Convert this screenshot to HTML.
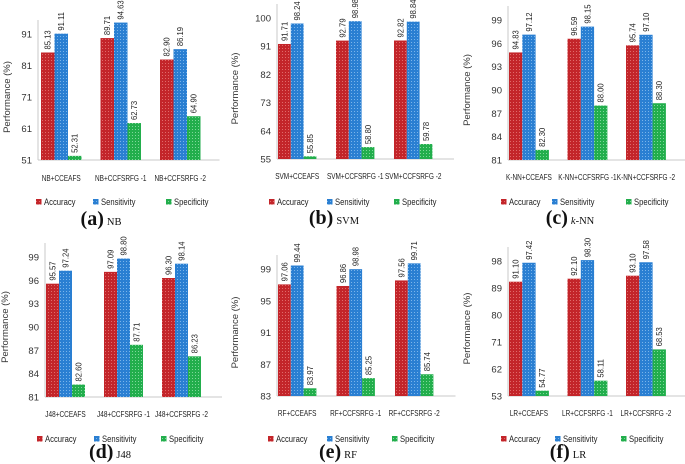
<!DOCTYPE html>
<html><head><meta charset="utf-8">
<style>
html,body{margin:0;padding:0;background:#fff;}
svg{display:block;font-family:"Liberation Sans",sans-serif;}
</style></head>
<body>
<svg id="chart" width="685" height="464" viewBox="0 0 685 464" xmlns="http://www.w3.org/2000/svg">
<defs>
<pattern id="pr" width="3" height="3" patternUnits="userSpaceOnUse"><rect width="3" height="3" fill="#c3252a"/><rect width="1" height="1" fill="#e06a6a"/></pattern>
<pattern id="pb" width="3" height="3" patternUnits="userSpaceOnUse"><rect width="3" height="3" fill="#2a7fd2"/><rect width="1" height="1" fill="#7ab4ea"/></pattern>
<pattern id="pg" width="3" height="3" patternUnits="userSpaceOnUse"><rect width="3" height="3" fill="#22ae4c"/><rect width="1" height="1" fill="#7fd79a"/></pattern>
</defs>
</svg>
<script>
const panelIds = ["nb","svm","knn","j48","rf","lr"];
const panelLetters = ["a","b","c","d","e","f"];
const panelTitles = ["NB","SVM","k-NN","J48","RF","LR"];
const categories = [
 ["NB+CCEAFS","NB+CCFSRFG -1","NB+CCFSRFG -2"],
 ["SVM+CCEAFS","SVM+CCFSRFG -1","SVM+CCFSRFG -2"],
 ["K-NN+CCEAFS","K-NN+CCFSRFG -1","K-NN+CCFSRFG -2"],
 ["J48+CCEAFS","J48+CCFSRFG -1","J48+CCFSRFG -2"],
 ["RF+CCEAFS","RF+CCFSRFG -1","RF+CCFSRFG -2"],
 ["LR+CCEAFS","LR+CCFSRFG -1","LR+CCFSRFG -2"]];
const accuracy = [[85.13,89.71,82.90],[91.71,92.79,92.82],[94.83,96.59,95.74],[95.57,97.09,96.30],[97.06,96.86,97.56],[91.10,92.10,93.10]];
const sensitivity = [[91.11,94.63,86.19],[98.24,98.98,98.84],[97.12,98.15,97.10],[97.24,98.80,98.14],[99.44,98.98,99.71],[97.42,98.30,97.58]];
const specificity = [[52.31,62.73,64.90],[55.85,58.80,59.78],[82.30,88.00,88.30],[82.60,87.71,86.23],[83.97,85.25,85.74],[54.77,58.11,68.53]];
const yMin = [51,55,81,81,83,53];
const yMax = [91,100,99,99,99,98];
const yStep = [10,9,3,3,4,9];
const seriesNames = ["Accuracy","Sensitivity","Specificity"];

// layout (not data)
const L = [
 {ax:38,base:160,top:34,bx:41,sp:59.5,bw:13.5,cat:181,leg:205,lx:[36,93,166],cap:101,capY:225,yt:10},
 {ax:277,base:159,top:18,bx:278,sp:58,bw:12.8,cat:179,leg:205,lx:[269,327,394],cap:334,capY:224,yt:238},
 {ax:508,base:160,top:20,bx:509,sp:58.5,bw:13.3,cat:180,leg:205,lx:[501,552,626],cap:570,capY:224,yt:470},
 {ax:45,base:397,top:257,bx:46,sp:58,bw:13,cat:417,leg:442,lx:[37,94,161],cap:110,capY:458,yt:8},
 {ax:277,base:396,top:269,bx:278,sp:58.5,bw:12.8,cat:416,leg:442,lx:[268,327,392],cap:338,capY:458,yt:238},
 {ax:508,base:396,top:261,bx:509,sp:58.5,bw:13.3,cat:416,leg:442,lx:[501,555,621],cap:568,capY:458,yt:470}];
const fills = ["url(#pr)","url(#pb)","url(#pg)"];
const NS = "http://www.w3.org/2000/svg";
const svg = document.getElementById("chart");
function mk(tag, attrs, parent, txt){
  const e = document.createElementNS(NS, tag);
  for (const k in attrs) e.setAttribute(k, attrs[k]);
  if (txt !== undefined) e.textContent = txt;
  (parent||svg).appendChild(e); return e;
}
function squeeze(t, factor){
  const w = t.getComputedTextLength();
  if (w > 0) { t.setAttribute("textLength", (w*factor).toFixed(1)); t.setAttribute("lengthAdjust","spacingAndGlyphs"); }
}
panelIds.forEach((pid, p) => {
  const g = mk("g", {});
  
  
  const c = L[p];
  const yScale = v => c.base - (v - yMin[p]) / (yMax[p] - yMin[p]) * (c.base - c.top);
  const right = c.ax + 3*c.sp + 3;
  const ya = mk("line", {x1:c.ax,y1:c.top-14,x2:c.ax,y2:c.base,stroke:"#c8c8c8","stroke-width":1}, g);
  
  
  const xa = mk("line", {x1:c.ax,y1:c.base,x2:right,y2:c.base,stroke:"#c8c8c8","stroke-width":1}, g);
  
  
  for (let v = yMin[p]; v <= yMax[p] + 0.001; v += yStep[p]) {
    const t = mk("text", {x:c.ax-6,y:yScale(v)+3.5,"text-anchor":"end","font-size":"9.5",fill:"#333"}, g, String(v));
    
    
  }
  const ymid = (c.top + c.base)/2;
  const yt = mk("text", {x:c.yt,y:ymid,"text-anchor":"middle","font-size":"9.5",fill:"#333",transform:`rotate(-90 ${c.yt} ${ymid})`}, g, "Performance (%)");
  
  
  const series = [accuracy[p], sensitivity[p], specificity[p]];
  for (let i = 0; i < 3; i++) {
    for (let s = 0; s < 3; s++) {
      const v = series[s][i];
      const x = c.bx + i*c.sp + s*c.bw;
      const y = yScale(v);
      const r = mk("rect", {x:x,y:y,width:c.bw,height:c.base-y,fill:fills[s]}, g);
      
      
      const lx = x + c.bw/2 + 3, ly = y - 3;
      const vl = mk("text", {x:lx,y:ly,"font-size":"8.5",fill:"#222",transform:`rotate(-90 ${lx} ${ly})`}, g, v.toFixed(2));
      
      
      squeeze(vl, 0.9);
    }
    const cl = mk("text", {x:c.bx + i*c.sp + 1.5*c.bw, y:c.cat,"text-anchor":"middle","font-size":"8.5",fill:"#222"}, g, categories[p][i]);
    
    
    squeeze(cl, 0.76);
  }
  for (let s = 0; s < 3; s++) {
    const le = mk("g", {}, g);
    
    
    mk("rect", {x:c.lx[s],y:c.leg-6,width:5.5,height:5.5,fill:fills[s]}, le);
    const lt = mk("text", {x:c.lx[s]+8,y:c.leg,"font-size":"9",fill:"#222"}, le, seriesNames[s]);
    squeeze(lt, 0.85);
  }
  const cap = mk("text", {x:c.cap,y:c.capY,"text-anchor":"middle","font-family":"Liberation Serif, serif",fill:"#111"}, g);
  
  
  mk("tspan", {"font-size":"20","font-weight":"bold"}, cap, "(" + panelLetters[p] + ")");
  if (panelTitles[p] === "k-NN") {
    mk("tspan", {"font-size":"10.5","font-style":"italic",dx:"3"}, cap, "k");
    mk("tspan", {"font-size":"10.5"}, cap, "-NN");
  } else {
    mk("tspan", {"font-size":"10.5",dx:"3"}, cap, panelTitles[p]);
  }
});
</script>
</body></html>
